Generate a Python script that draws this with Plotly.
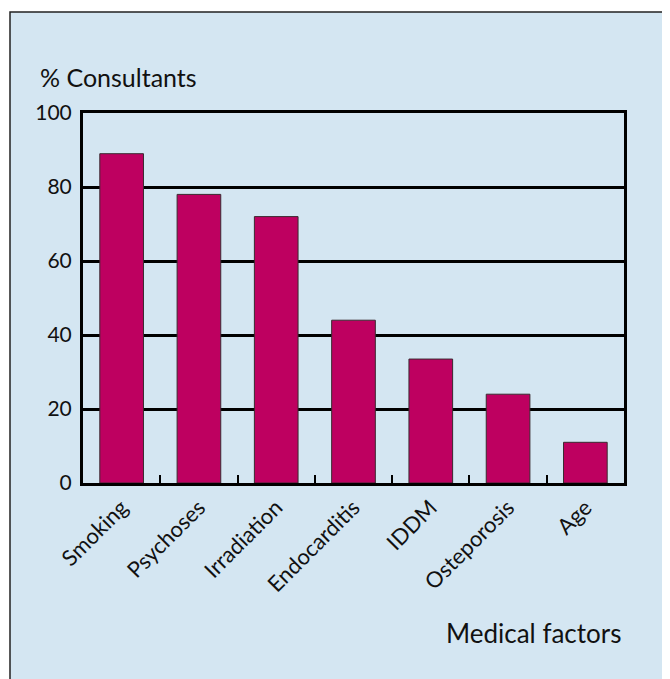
import plotly.graph_objects as go

categories = ["Smoking", "Psychoses", "Irradiation", "Endocarditis", "IDDM", "Osteporosis", "Age"]
values = [89, 78, 72, 44, 33.5, 24, 11]
y_ticks = [0, 20, 40, 60, 80, 100]
y_title = "% Consultants"
x_title = "Medical factors"

BG = "#d4e6f2"
BAR = "#be0060"
FONT = "Lato, 'Open Sans', sans-serif"

# page offset (body margin) compensation
OFF = 8
W, H = 670 - OFF, 679 - OFF
L, R, T, B = 83 - OFF, 46, 113 - OFF, 196
pw, ph = W - L - R, H - T - B

def px_x(x):
    return (x - OFF - L) / pw

def px_y(y):
    return (H - B - (y - OFF)) / ph

fig = go.Figure(go.Bar(
    x=categories, y=values,
    marker=dict(color=BAR, line=dict(color="#3a2a30", width=1)),
    width=0.565,
))

fig.update_layout(
    width=W, height=H,
    margin=dict(l=L, r=R, t=T, b=B),
    paper_bgcolor="white",
    plot_bgcolor=BG,
    showlegend=False,
    font=dict(family=FONT, color="#111111"),
    shapes=[dict(
        type="rect", xref="paper", yref="paper",
        x0=px_x(10), x1=px_x(720), y0=px_y(720), y1=px_y(12),
        line=dict(color="#222222", width=1.5), fillcolor=BG, layer="below",
    )],
    annotations=[
        dict(text=y_title, xref="paper", yref="paper", x=px_x(38), y=px_y(77),
             xanchor="left", yanchor="middle", showarrow=False,
             font=dict(size=25, family=FONT, color="#111111")),
        dict(text=x_title, xref="paper", yref="paper", x=px_x(623), y=px_y(633),
             xanchor="right", yanchor="middle", showarrow=False,
             font=dict(size=26, family=FONT, color="#111111")),
    ],
)

fig.update_xaxes(
    type="category",
    showline=True, linecolor="black", linewidth=3, mirror=True,
    showgrid=False,
    ticks="inside", tickson="boundaries", ticklen=8, tickwidth=2, tickcolor="black",
    tickangle=-45, tickfont=dict(size=22, family=FONT, color="#111111"),
)
fig.update_yaxes(
    range=[0, 100], tickvals=y_ticks,
    showline=True, linecolor="black", linewidth=3, mirror=True,
    showgrid=True, gridcolor="black", gridwidth=2.5,
    zeroline=False,
    ticks="outside", ticklen=4, tickcolor="rgba(0,0,0,0)",
    tickfont=dict(size=21, family=FONT, color="#111111"),
)

fig.write_html("out.html")
